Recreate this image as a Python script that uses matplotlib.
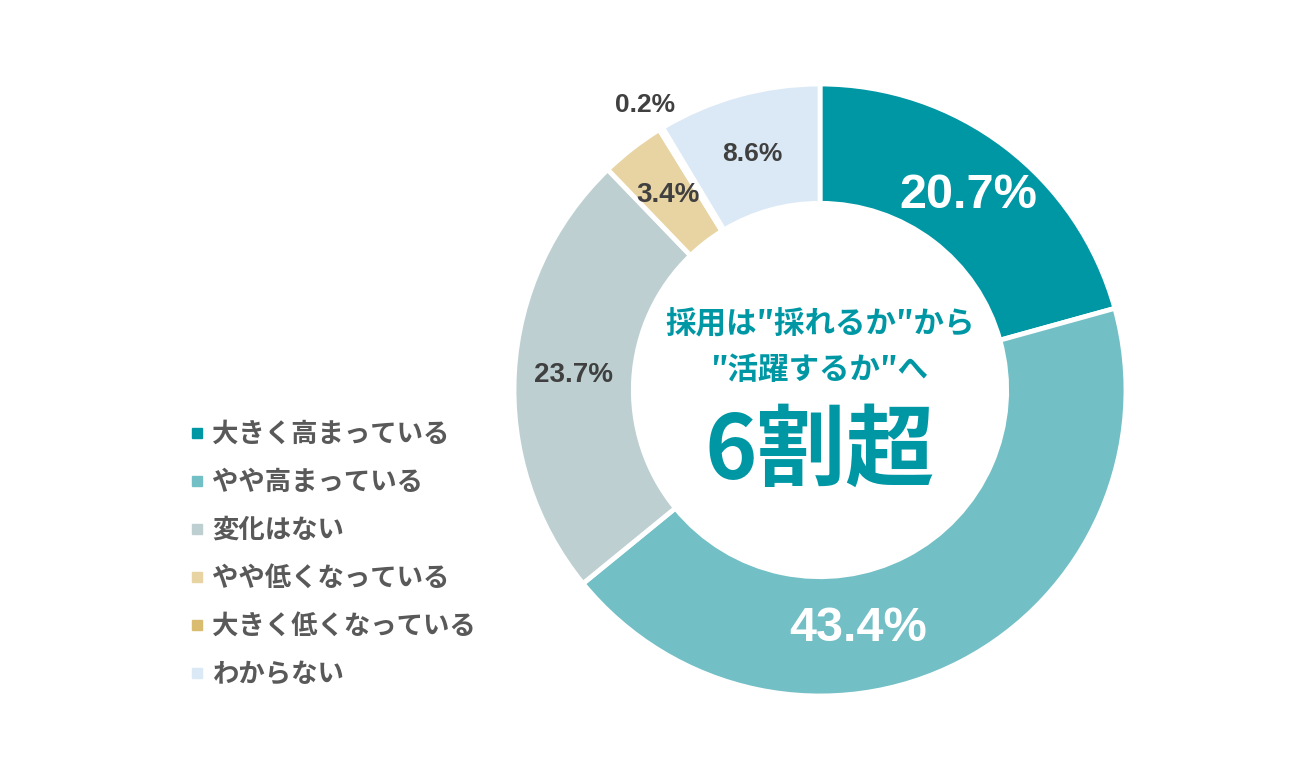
import matplotlib.pyplot as plt
from matplotlib.lines import Line2D

plt.rcParams['font.family'] = ['Noto Sans CJK JP', 'DejaVu Sans']

# data
categories = ['大きく高まっている', 'やや高まっている', '変化はない',
              'やや低くなっている', '大きく低くなっている', 'わからない']
values = [20.7, 43.4, 23.7, 3.4, 0.2, 8.6]
colors = ['#0097a5', '#72bfc6', '#bdcfd1', '#e8d4a2', '#d9bc6f', '#dbe9f6']
label_text = ['20.7%', '43.4%', '23.7%', '3.4%', '0.2%', '8.6%']

# label placement (pie radius units)
label_pos = [(0.484, 0.637), (0.124, -0.778), (-0.807, 0.049),
             (-0.497, 0.637), (-0.572, 0.931), (-0.222, 0.771)]
label_color = ['white', 'white', '#404040', '#404040', '#404040', '#404040']
label_size = [35, 35, 20, 20, 19, 19]

W, H = 1300, 780
fig = plt.figure(figsize=(13, 7.8), dpi=100)
cx, cy, R = 820, 390, 306
ax = fig.add_axes([(cx - R) / W, (H - cy - R) / H, 2 * R / W, 2 * R / H])

ax.pie(values, colors=colors, startangle=90, counterclock=False,
       radius=1.0, wedgeprops=dict(width=0.39, edgecolor='white', linewidth=3.5))
ax.set_xlim(-1, 1)
ax.set_ylim(-1, 1)
ax.set_aspect('equal')
ax.axis('off')

for txt, (x, y), c, s in zip(label_text, label_pos, label_color, label_size):
    ax.text(x, y, txt, ha='center', va='center', color=c, fontsize=s,
            fontweight='bold', family=['Liberation Sans', 'DejaVu Sans'])

# center message
teal = '#0097a5'
ax.text(0, 0.213, '採用は″採れるか″から', ha='center', va='center',
        color=teal, fontsize=22, fontweight='bold')
ax.text(0, 0.066, '″活躍するか″へ', ha='center', va='center',
        color=teal, fontsize=22, fontweight='bold')
ax.text(0, -0.205, '6割超', ha='center', va='center',
        color=teal, fontsize=64, fontweight='bold')

# legend
handles = [Line2D([0], [0], marker='s', linestyle='none', markersize=7,
                  markerfacecolor=c, markeredgecolor=c) for c in colors]
fig.legend(handles, categories, loc='upper left',
           bbox_to_anchor=(161 / W, 1 - 397 / H), frameon=False,
           labelspacing=0.8, handletextpad=0.15,
           handlelength=0.9, labelcolor='#595959',
           prop=dict(weight='bold', size=19))

fig.savefig('out.png', dpi=100, facecolor='white')
